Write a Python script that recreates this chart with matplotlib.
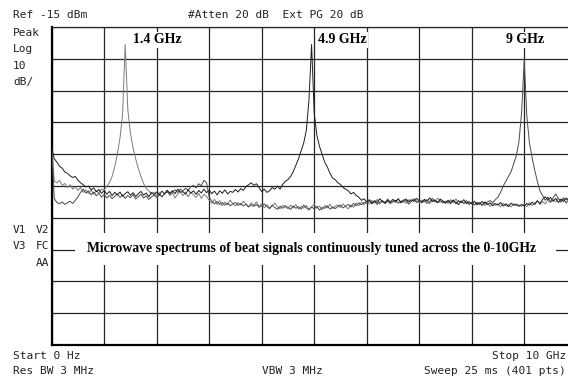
import numpy as np
import matplotlib
matplotlib.use("Agg")
import matplotlib.pyplot as plt
from matplotlib.patches import Rectangle

# ---------------- data ----------------
freq_ghz = [round(i * 0.05, 2) for i in range(201)]

trace_1p4 = [
    -53.0, -63.5, -64.0, -63.2, -64.8, -64.2, -65.5, -64.6, -66.0, -65.2,
    -66.4, -65.5, -67.0, -66.2, -67.4, -66.3, -67.6, -66.5, -67.2, -66.0,
    -66.2, -65.0, -64.0, -62.0, -59.0, -55.0, -50.0, -42.5, -20.5, -41.0,
    -48.5, -53.0, -56.5, -59.5, -62.0, -64.2, -65.8, -66.5, -67.6, -66.9,
    -68.2, -67.0, -68.5, -67.4, -66.6, -68.0, -67.2, -68.8, -67.5, -66.8,
    -68.0, -67.1, -68.4, -66.9, -67.8, -68.6, -67.3, -68.9, -67.6, -68.3,
    -69.5, -70.4, -69.2, -70.8, -69.6, -71.2, -70.0, -70.9, -69.4, -70.6,
    -71.3, -70.2, -71.0, -69.8, -70.7, -71.5, -70.3, -71.1, -70.0, -71.4,
    -70.6, -71.8, -70.9, -72.0, -71.2, -70.4, -71.6, -72.2, -71.0, -71.7,
    -72.1, -71.0, -71.9, -70.8, -72.3, -71.4, -72.0, -71.1, -72.4, -71.5,
    -70.8, -72.0, -71.3, -72.5, -71.1, -71.9, -70.7, -72.1, -71.4, -70.9,
    -71.8, -70.6, -71.5, -72.2, -70.9, -71.7, -70.4, -71.2, -70.1, -70.9,
    -69.8, -70.7, -69.5, -70.3, -69.2, -70.6, -69.7, -70.1, -69.0, -70.4,
    -69.6, -70.2, -69.1, -69.9, -69.4, -70.5, -69.3, -69.8, -68.9, -69.7,
    -70.3, -69.4, -70.0, -69.2, -70.6, -69.5, -70.1, -68.8, -69.6, -70.4,
    -69.7, -70.5, -69.3, -70.2, -69.0, -70.8, -69.9, -70.4, -69.5, -70.7,
    -70.1, -71.0, -70.3, -70.9, -69.8, -71.2, -70.5, -71.4, -70.2, -71.1,
    -70.6, -71.5, -70.4, -71.3, -70.8, -71.6, -70.5, -71.2, -70.9, -71.4,
    -70.7, -71.5, -70.2, -71.1, -70.4, -69.6, -70.8, -69.9, -70.6, -69.5,
    -70.2, -69.3, -70.0, -68.9, -69.7, -68.6, -69.4, -68.8, -69.5, -68.7,
    -69.0,
]

trace_4p9 = [
    -53.0, -56.5, -57.5, -58.8, -59.4, -60.6, -61.0, -61.8, -62.3, -62.0,
    -63.2, -64.0, -64.6, -65.3, -65.0, -66.2, -65.6, -66.8, -66.1, -67.3,
    -66.4, -67.6, -66.7, -68.0, -67.0, -67.8, -66.9, -68.2, -67.4, -66.8,
    -67.9, -67.1, -68.3, -67.4, -66.7, -67.9, -67.2, -68.4, -67.0, -67.7,
    -66.9, -67.8, -66.6, -67.5, -66.3, -67.2, -66.5, -67.4, -66.0, -66.9,
    -66.8, -67.5, -66.2, -67.3, -66.5, -67.6, -66.4, -67.2, -66.0, -67.1,
    -66.3, -67.4, -66.6, -67.8, -66.5, -67.3, -66.2, -67.5, -66.7, -67.0,
    -66.1, -66.9, -65.8, -66.4, -65.2, -64.6, -64.0, -64.8, -64.3, -65.5,
    -66.8, -66.0, -67.0, -66.5, -65.5, -66.0, -65.0, -66.0, -64.5, -63.5,
    -63.0, -62.0, -60.5, -58.5, -56.5, -54.0, -51.5, -47.5, -38.0, -20.5,
    -42.0, -49.0, -52.5, -55.0, -57.5, -59.0, -61.0, -62.5, -63.0, -64.0,
    -64.5, -65.5, -66.0, -66.5, -67.5, -67.0, -68.0, -68.5, -69.5, -69.0,
    -70.0, -69.3, -70.4, -69.6, -70.2, -69.0, -69.9, -70.5, -69.4, -70.0,
    -69.2, -69.9, -69.0, -70.3, -69.5, -69.1, -70.0, -69.3, -69.8, -68.9,
    -69.6, -70.1, -69.2, -69.8, -68.7, -69.9, -69.4, -70.2, -69.1, -69.7,
    -70.3, -69.5, -70.1, -69.4, -70.6, -69.6, -70.2, -69.3, -70.5, -69.9,
    -70.6, -69.8, -70.9, -70.2, -71.1, -70.0, -70.8, -70.3, -71.2, -70.5,
    -71.0, -70.2, -71.3, -70.6, -71.5, -70.4, -71.1, -70.7, -71.4, -70.8,
    -71.3, -70.5, -71.0, -70.1, -70.8, -69.7, -70.5, -69.2, -68.4, -69.3,
    -68.6, -69.8, -68.9, -70.2, -69.1, -69.9, -68.8, -69.6, -70.3, -69.4,
    -69.8,
]

trace_9 = [
    -53.0, -69.0, -70.2, -70.6, -70.0, -70.8, -70.3, -69.8, -70.5, -69.5,
    -68.4, -67.0, -66.0, -67.2, -66.5, -67.8, -66.9, -68.1, -67.3, -68.5,
    -67.6, -68.8, -67.9, -69.0, -68.2, -67.5, -68.6, -67.8, -68.9, -68.0,
    -68.7, -67.7, -69.1, -68.3, -67.6, -68.8, -68.1, -69.2, -68.4, -67.9,
    -68.6, -67.8, -68.3, -67.4, -66.8, -67.6, -66.9, -66.2, -67.0, -66.0,
    -66.6, -65.7, -66.3, -65.2, -64.8, -65.6, -64.3, -64.9, -63.2, -64.0,
    -68.5, -69.8, -70.6, -69.9, -70.8, -70.2, -71.0, -70.4, -71.2, -70.6,
    -70.2, -71.1, -70.5, -71.3, -70.7, -71.6, -70.9, -71.4, -70.8, -71.7,
    -71.2, -70.6, -71.5, -72.1, -71.0, -71.8, -72.3, -71.4, -72.0, -71.2,
    -71.7, -72.4, -71.3, -72.0, -71.5, -72.3, -71.0, -71.9, -72.5, -71.6,
    -72.2, -71.4, -72.6, -71.8, -72.0, -71.2, -72.3, -71.6, -72.1, -71.5,
    -71.0, -71.9, -71.3, -70.8, -71.6, -70.5, -71.2, -70.3, -70.9, -70.1,
    -70.4, -69.7, -70.6, -69.9, -70.8, -70.1, -69.6, -70.3, -69.8, -70.5,
    -70.0, -69.5, -70.4, -69.8, -70.1, -69.4, -70.7, -69.9, -69.3, -70.2,
    -69.5, -70.3, -69.6, -70.5, -69.9, -68.9, -69.7, -70.3, -69.8, -70.0,
    -70.4, -69.8, -70.6, -69.6, -70.2, -70.9, -69.7, -70.5, -70.0, -70.8,
    -70.3, -70.9, -70.1, -70.7, -69.9, -70.5, -70.0, -69.6, -70.2, -69.3,
    -68.5, -67.0, -65.0, -63.5, -62.0, -60.5, -58.0, -55.5, -51.0, -42.0,
    -25.5, -43.0, -51.5, -56.0, -60.0, -63.5, -66.5, -68.0, -69.5, -68.5,
    -70.0, -68.7, -67.5, -68.9, -70.1, -69.0, -70.4, -69.2, -70.0, -69.5,
    -69.6,
]

x_ticks_ghz = list(range(0, 11))
y_ticks_dbm = list(range(-115, -14, 10))

peak_labels = ["1.4 GHz", "4.9 GHz", "9 GHz"]
caption = "Microwave spectrums of beat signals continuously tuned across the 0-10GHz"

# ---------------- figure ----------------
W, H = 568, 381
fig = plt.figure(figsize=(W / 100, H / 100), dpi=100)
fig.patch.set_facecolor("white")

def fx(px):
    return px / W

def fy(py):
    return 1 - py / H

ax_left, ax_top, ax_right, ax_bottom = 51.7, 27.0, 576.7, 345.0
ax = fig.add_axes([fx(ax_left), fy(ax_bottom), (ax_right - ax_left) / W, (ax_bottom - ax_top) / H])
ax.set_xlim(0, 10)
ax.set_ylim(-115, -15)
ax.set_xticks(x_ticks_ghz)
ax.set_yticks(y_ticks_dbm)
ax.tick_params(length=0, labelbottom=False, labelleft=False)
ax.grid(True, color="#262626", linewidth=0.9)
for side in ["top", "right"]:
    ax.spines[side].set_linewidth(0.9)
    ax.spines[side].set_color("#262626")
for side in ["left", "bottom"]:
    ax.spines[side].set_linewidth(1.6)
    ax.spines[side].set_color("black")

ax.plot(freq_ghz, trace_1p4, color="#7c7c7c", linewidth=0.7, zorder=3)
ax.plot(freq_ghz, trace_9, color="#4a4a4a", linewidth=0.7, zorder=3)
ax.plot(freq_ghz, trace_4p9, color="#1e1e1e", linewidth=0.7, zorder=3)

# caption with white box interrupting grid
ax.add_patch(Rectangle((0.44, -89.8), 9.17, 10.0, facecolor="white", edgecolor="none", zorder=4))
ax.text(4.94, -84.8, caption, ha="center", va="center", fontsize=9.9,
        family="Liberation Serif", fontweight="bold", zorder=5)

# peak labels
serif_kw = dict(family="Liberation Serif", fontweight="bold", fontsize=10, va="center",
                ha="left", zorder=5,
                bbox=dict(facecolor="white", edgecolor="none", pad=1.0))
ax.text(1.55, -19.0, peak_labels[0], **serif_kw)
ax.text(5.07, -19.0, peak_labels[1], **serif_kw)
ax.text(8.65, -19.0, peak_labels[2], **serif_kw)

# instrument annotations
mono = dict(family="DejaVu Sans Mono", fontsize=8, color="#222222", va="center")
fig.text(fx(13), fy(15), "Ref -15 dBm", ha="left", **mono)
fig.text(fx(188), fy(15), "#Atten 20 dB  Ext PG 20 dB", ha="left", **mono)
fig.text(fx(13), fy(33), "Peak", ha="left", **mono)
fig.text(fx(13), fy(49.5), "Log", ha="left", **mono)
fig.text(fx(13), fy(66), "10", ha="left", **mono)
fig.text(fx(13), fy(82), "dB/", ha="left", **mono)
fig.text(fx(13), fy(230), "V1", ha="left", **mono)
fig.text(fx(49), fy(230), "V2", ha="right", **mono)
fig.text(fx(13), fy(246), "V3", ha="left", **mono)
fig.text(fx(49), fy(246), "FC", ha="right", **mono)
fig.text(fx(49), fy(263), "AA", ha="right", **mono)
fig.text(fx(13), fy(356), "Start 0 Hz", ha="left", **mono)
fig.text(fx(13), fy(371), "Res BW 3 MHz", ha="left", **mono)
fig.text(fx(262), fy(371), "VBW 3 MHz", ha="left", **mono)
fig.text(fx(566), fy(356), "Stop 10 GHz", ha="right", **mono)
fig.text(fx(566), fy(371), "Sweep 25 ms (401 pts)", ha="right", **mono)

fig.savefig("out.png", dpi=100, facecolor="white")
